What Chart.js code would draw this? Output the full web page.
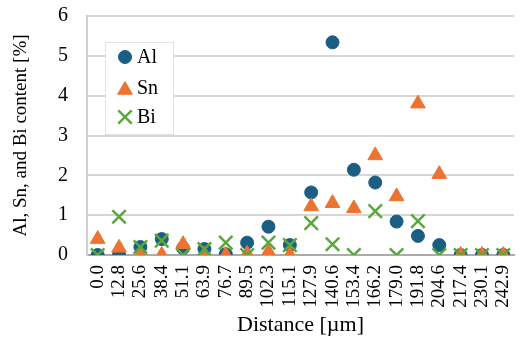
<!DOCTYPE html>
<html>
<head>
<meta charset="utf-8">
<script src="https://cdn.jsdelivr.net/npm/chart.js@4/dist/chart.umd.min.js"></script>
<style>
  html, body { margin: 0; padding: 0; background: #fff; overflow: hidden; }
  canvas { display: block; }
</style>
</head>
<body>
<canvas id="chart" width="526" height="338" style="width:526px;height:338px"></canvas>
<script>
// ---- data ----
const distances = ['0.0', '12.8', '25.6', '38.4', '51.1', '63.9', '76.7', '89.5', '102.3', '115.1',
    '127.9', '140.6', '153.4', '166.2', '179.0', '191.8', '204.6', '217.4', '230.1', '242.9'];
const alValues = [0, 0, 0.2, 0.4, 0.17, 0.15, 0.02, 0.31, 0.71, 0.25, 1.57, 5.34, 2.14, 1.82, 0.84, 0.48, 0.25, 0, 0, 0];
const snValues = [0.4, 0.18, 0, 0, 0.27, 0, 0, 0.03, 0.08, 0, 1.22, 1.3, 1.17, 2.5, 1.47, 3.8, 2.03, 0, 0, 0];
const biValues = [0, 0.96, 0.2, 0.36, 0, 0.15, 0.31, 0, 0.31, 0.25, 0.8, 0.27, 0, 1.1, 0, 0.85, 0, 0, 0, 0];

const serif = "'Liberation Serif', 'DejaVu Serif', serif";
const gridGrey = '#d6d6d6';
const axisGrey = '#ababab';

// legend drawn inside the plot, like the original
const insideLegend = {
    id: 'insideLegend',
    afterDraw(chart) {
        const ctx = chart.ctx;
        const x = 105, y = 42, w = 68, h = 92;
        ctx.save();
        ctx.fillStyle = '#fff';
        ctx.fillRect(x, y, w, h);
        ctx.strokeStyle = '#e2e2e2';
        ctx.lineWidth = 1;
        ctx.strokeRect(x + 0.5, y + 0.5, w, h);
        const rows = [57, 88, 117];
        chart.data.datasets.forEach((ds, i) => {
            ctx.fillStyle = ds.backgroundColor;
            ctx.strokeStyle = ds.borderColor;
            ctx.lineWidth = ds.borderWidth;
            const py = ds.pointStyle === 'triangle' ? rows[i] + 2 : rows[i];
            Chart.helpers.drawPoint(ctx, {
                pointStyle: ds.pointStyle,
                radius: ds.pointRadius,
                rotation: 0,
                borderWidth: ds.borderWidth
            }, 125, py);
            ctx.fillStyle = '#000';
            ctx.font = "20px " + serif;
            ctx.textBaseline = 'middle';
            ctx.fillText(ds.label, 137, rows[i] + 1);
        });
        ctx.restore();
    }
};

new Chart(document.getElementById('chart'), {
    type: 'line',
    data: {
        labels: distances,
        datasets: [
            { label: 'Al', data: alValues, pointStyle: 'circle', pointRadius: 6.5,
              backgroundColor: '#1b5e84', borderColor: '#1b5e84', borderWidth: 1, order: 2 },
            { label: 'Sn', data: snValues, pointStyle: 'triangle', pointRadius: 8.5,
              backgroundColor: '#ed7330', borderColor: '#ed7330', borderWidth: 1, order: 1 },
            { label: 'Bi', data: biValues, pointStyle: 'crossRot', pointRadius: 9.5,
              backgroundColor: '#5aa83c', borderColor: '#5aa83c', borderWidth: 2.5, order: 0 }
        ]
    },
    options: {
        responsive: false,
        animation: false,
        showLine: false,
        // plot runs slightly past the right edge in the original
        layout: { padding: { top: 16, right: -8, bottom: 0, left: 0 } },
        plugins: {
            legend: { display: false },
            tooltip: { enabled: false }
        },
        elements: { point: { hoverRadius: 7 } },
        scales: {
            x: {
                offset: true,
                grid: { display: false, drawTicks: false },
                border: { color: axisGrey, width: 2 },
                ticks: {
                    color: '#000', font: { family: serif, size: 19 },
                    minRotation: 90, maxRotation: 90, padding: 10, autoSkip: false
                },
                title: {
                    display: true, text: 'Distance [µm]', color: '#000',
                    font: { family: serif, size: 22 }, padding: { top: 0, bottom: 0 }
                },
                afterFit(scale) {
                    scale.height = 83;
                    scale.paddingLeft = 0;
                    scale.paddingRight = 0;
                }
            },
            y: {
                min: 0, max: 6,
                grid: { color: gridGrey, lineWidth: 2, drawTicks: false },
                border: { color: '#cfcfcf', width: 2 },
                ticks: {
                    stepSize: 1, color: '#000', font: { family: serif, size: 20 }, padding: 19
                },
                title: {
                    display: true, text: 'Al, Sn, and Bi content [%]', color: '#000',
                    font: { family: serif, size: 19 }, padding: { top: 10, bottom: 0 }
                },
                afterFit(scale) {
                    scale.width = 87;
                    scale.paddingTop = 0;
                    scale.paddingBottom = 0;
                }
            }
        }
    },
    plugins: [insideLegend]
});
</script>
</body>
</html>
